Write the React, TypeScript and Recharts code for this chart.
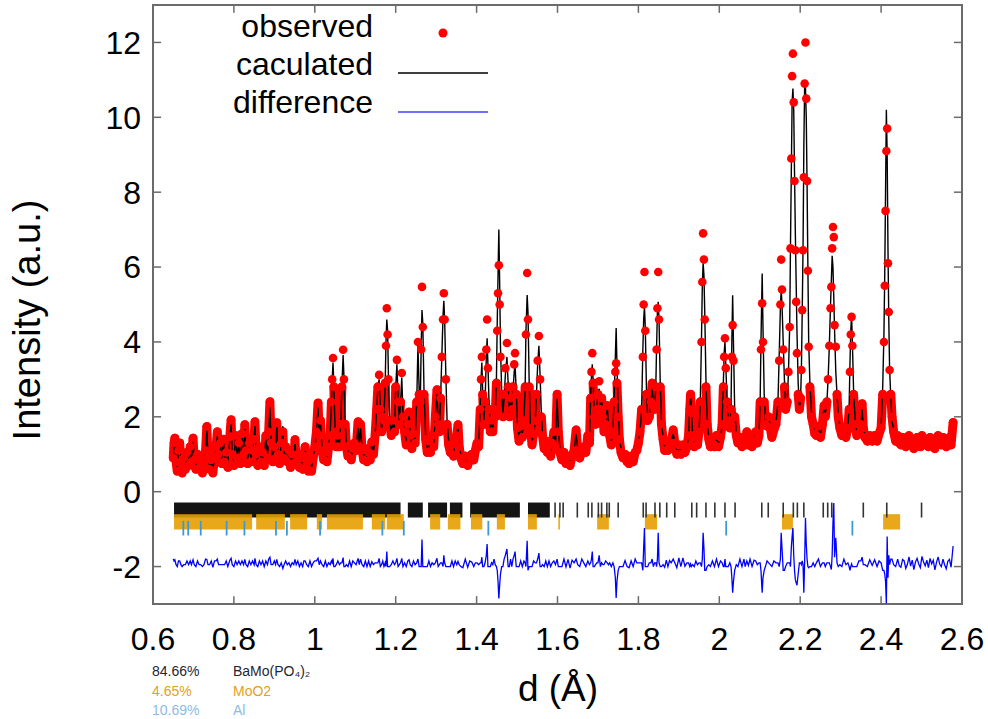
import {
  ComposedChart,
  Line,
  Scatter,
  XAxis,
  YAxis,
  ReferenceArea,
  ReferenceLine,
} from "recharts";

// Rietveld profile: [d (Å), observed, calculated]
const profileLow: [number, number, number][] = [
  [0.65, 0.9, 0.8], [0.652, 1.3, 1.25], [0.654, 1.43, 1.35], [0.657, 0.8, 0.85],
  [0.66, 0.55, 0.65], [0.663, 1.1, 1.05], [0.666, 1.3, 1.25], [0.669, 0.75, 0.8],
  [0.672, 0.5, 0.6], [0.676, 0.9, 0.95], [0.68, 0.6, 0.65], [0.684, 1.05, 1.0],
  [0.688, 0.7, 0.75], [0.692, 1.2, 1.15], [0.695, 0.8, 0.85], [0.699, 1.43, 1.35],
  [0.702, 0.85, 0.9], [0.706, 0.6, 0.7], [0.71, 1.0, 0.95], [0.714, 0.6, 0.65],
  [0.718, 0.8, 0.85], [0.722, 0.5, 0.6], [0.726, 0.7, 0.75], [0.73, 1.1, 1.0],
  [0.733, 1.74, 1.65], [0.736, 0.9, 0.95], [0.74, 0.6, 0.65], [0.744, 0.85, 0.8],
  [0.748, 0.5, 0.62], [0.752, 0.9, 0.85], [0.756, 1.2, 1.15], [0.759, 1.6, 1.5],
  [0.762, 1.0, 1.05], [0.766, 1.3, 1.35], [0.77, 0.75, 0.8], [0.774, 1.4, 1.45],
  [0.777, 0.8, 0.85], [0.781, 1.05, 1.0], [0.785, 0.65, 0.75], [0.79, 1.47, 1.4],
  [0.793, 1.92, 1.8], [0.796, 1.0, 1.05], [0.8, 0.7, 0.8], [0.804, 1.5, 1.45],
  [0.808, 0.9, 0.95], [0.812, 1.3, 1.25], [0.816, 0.75, 0.8], [0.82, 1.55, 1.5],
  [0.824, 1.0, 1.05], [0.827, 1.79, 1.7], [0.83, 1.1, 1.15], [0.834, 0.75, 0.85],
  [0.838, 1.3, 1.25], [0.842, 0.8, 0.85], [0.846, 1.1, 1.05], [0.85, 1.4, 1.45],
  [0.852, 1.87, 1.75], [0.855, 1.0, 1.05], [0.859, 0.7, 0.8], [0.863, 1.2, 1.15],
  [0.867, 0.8, 0.85], [0.871, 1.05, 1.0], [0.875, 0.7, 0.8], [0.879, 1.5, 1.45],
  [0.883, 0.9, 0.95], [0.886, 1.6, 1.5], [0.889, 2.4, 2.25], [0.892, 1.3, 1.35],
  [0.896, 0.8, 0.85], [0.9, 1.2, 1.15], [0.903, 0.9, 0.95], [0.906, 1.84, 1.75],
  [0.909, 1.0, 1.05], [0.913, 0.75, 0.85], [0.917, 1.3, 1.3], [0.921, 1.6, 1.75],
  [0.924, 0.9, 0.95], [0.928, 1.2, 1.15], [0.932, 0.8, 0.85], [0.936, 1.1, 1.1],
  [0.94, 0.65, 0.75], [0.944, 1.0, 1.0], [0.948, 0.75, 0.8], [0.951, 1.39, 1.3],
  [0.954, 0.8, 0.85], [0.958, 1.0, 0.95], [0.962, 0.65, 0.75], [0.966, 0.9, 0.9],
  [0.97, 0.6, 0.7], [0.973, 0.95, 0.9], [0.976, 1.2, 1.15], [0.98, 0.75, 0.8],
  [0.984, 0.55, 0.65], [0.988, 0.85, 0.8], [0.992, 0.55, 0.65], [0.996, 0.9, 0.9],
];

const profileMid: [number, number, number][] = [
  [1.0, 1.2, 1.15], [1.004, 1.6, 1.55], [1.008, 2.37, 2.25], [1.011, 1.5, 1.55],
  [1.014, 1.9, 1.85], [1.018, 1.1, 1.15], [1.022, 0.85, 0.95], [1.026, 1.05, 1.0],
  [1.03, 0.8, 0.9], [1.034, 1.2, 1.2], [1.038, 1.5, 1.55], [1.041, 2.4, 2.35],
  [1.043, 3.0, 3.0], [1.045, 3.57, 3.45], [1.047, 2.8, 2.9], [1.05, 1.6, 1.7],
  [1.053, 1.2, 1.25], [1.057, 1.5, 1.45], [1.061, 1.2, 1.25], [1.064, 1.8, 1.8],
  [1.067, 2.8, 2.8], [1.07, 3.79, 3.65], [1.072, 3.0, 3.1], [1.075, 1.8, 1.9],
  [1.078, 1.2, 1.25], [1.082, 0.95, 1.05], [1.086, 1.25, 1.2], [1.09, 0.85, 0.95],
  [1.094, 1.15, 1.1], [1.098, 1.3, 1.3], [1.102, 1.1, 1.15], [1.107, 1.87, 1.75],
  [1.11, 1.2, 1.25], [1.113, 1.8, 1.7], [1.117, 1.1, 1.15], [1.121, 0.85, 0.95],
  [1.125, 1.15, 1.1], [1.129, 0.8, 0.9], [1.133, 1.05, 1.0], [1.137, 0.85, 0.95],
  [1.141, 1.33, 1.3], [1.145, 1.0, 1.05], [1.149, 1.5, 1.5], [1.153, 2.2, 2.2],
  [1.156, 2.8, 2.8], [1.159, 3.12, 3.0], [1.162, 2.2, 2.3], [1.165, 1.6, 1.65],
  [1.168, 2.0, 1.95], [1.171, 1.9, 2.0], [1.174, 2.9, 2.9], [1.176, 3.9, 4.0],
  [1.178, 4.9, 4.6], [1.18, 4.2, 4.3], [1.182, 3.0, 3.1], [1.185, 1.9, 2.0],
  [1.189, 1.5, 1.55], [1.193, 1.9, 1.85], [1.197, 1.6, 1.65], [1.2, 2.8, 2.8],
  [1.203, 3.52, 3.4], [1.206, 2.4, 2.5], [1.209, 1.8, 1.85], [1.212, 2.4, 2.4],
  [1.215, 3.17, 3.05], [1.218, 2.0, 2.1], [1.222, 1.6, 1.6], [1.226, 1.25, 1.35],
  [1.23, 1.8, 1.75], [1.233, 2.13, 2.05], [1.236, 1.5, 1.55], [1.24, 1.15, 1.25],
  [1.244, 1.55, 1.5], [1.248, 1.3, 1.35], [1.252, 2.4, 2.4], [1.255, 4.0, 3.9],
  [1.258, 2.6, 2.7], [1.261, 2.4, 2.5], [1.263, 3.8, 3.9], [1.265, 5.47, 4.85],
  [1.267, 4.4, 4.5], [1.27, 2.6, 2.7], [1.274, 1.4, 1.5], [1.278, 1.05, 1.15],
  [1.282, 1.35, 1.3], [1.286, 1.05, 1.15], [1.29, 1.5, 1.5], [1.294, 1.2, 1.25],
  [1.298, 2.0, 2.0], [1.302, 2.72, 2.6], [1.305, 1.8, 1.9], [1.308, 1.6, 1.65],
  [1.311, 2.5, 2.5], [1.314, 3.6, 3.6], [1.317, 4.6, 4.7], [1.319, 5.3, 5.1],
  [1.321, 4.6, 4.6], [1.324, 3.0, 3.1], [1.327, 1.8, 1.9], [1.331, 1.25, 1.35],
  [1.335, 1.05, 1.15], [1.339, 1.25, 1.2], [1.343, 0.95, 1.05], [1.347, 1.35, 1.3],
  [1.351, 1.5, 1.55], [1.354, 1.79, 1.75], [1.357, 1.2, 1.25], [1.361, 0.9, 1.0],
  [1.366, 0.75, 0.88], [1.372, 0.95, 0.85], [1.378, 0.7, 0.82], [1.383, 0.9, 0.85],
  [1.388, 1.0, 0.98], [1.393, 0.85, 0.95], [1.397, 1.1, 1.1], [1.401, 1.3, 1.3],
  [1.405, 1.2, 1.25], [1.409, 2.2, 2.2], [1.411, 3.0, 3.0], [1.413, 3.6, 3.45],
  [1.415, 2.6, 2.7], [1.418, 1.8, 1.9], [1.421, 2.4, 2.4], [1.424, 3.8, 3.6],
  [1.426, 4.6, 4.1], [1.428, 3.3, 3.4], [1.431, 2.2, 2.3], [1.434, 1.6, 1.7],
  [1.437, 1.9, 1.9], [1.44, 1.6, 1.65], [1.443, 2.2, 2.1], [1.446, 2.0, 2.05],
  [1.449, 2.9, 3.0], [1.451, 4.3, 4.5], [1.453, 5.3, 5.8], [1.455, 6.05, 7.0],
  [1.457, 5.0, 5.6], [1.459, 3.6, 3.9], [1.462, 2.6, 2.7], [1.465, 2.0, 2.1],
  [1.468, 2.6, 2.5], [1.471, 3.3, 3.1], [1.475, 3.97, 3.6], [1.478, 2.8, 2.9],
  [1.481, 2.0, 2.1], [1.484, 2.5, 2.4], [1.487, 2.2, 2.3], [1.49, 2.8, 2.7],
  [1.493, 3.4, 3.2], [1.495, 3.7, 3.4], [1.498, 2.6, 2.7], [1.501, 1.7, 1.8],
  [1.505, 1.35, 1.45], [1.509, 1.75, 1.7], [1.513, 1.45, 1.55], [1.517, 1.9, 1.85],
  [1.52, 2.8, 2.8], [1.522, 4.2, 4.3], [1.525, 5.84, 5.25], [1.527, 4.6, 4.8],
  [1.53, 2.8, 2.9], [1.533, 1.7, 1.8], [1.537, 1.25, 1.35], [1.541, 1.55, 1.5],
  [1.545, 1.9, 1.9], [1.548, 2.6, 2.6], [1.551, 3.5, 3.4], [1.554, 4.16, 3.9],
  [1.557, 3.0, 3.1], [1.56, 2.0, 2.1], [1.563, 1.5, 1.55], [1.567, 1.15, 1.25],
  [1.571, 1.35, 1.3], [1.575, 1.05, 1.15], [1.579, 1.25, 1.2], [1.583, 0.95, 1.05],
  [1.587, 1.3, 1.3], [1.591, 1.6, 1.55], [1.595, 1.2, 1.25], [1.599, 2.6, 2.5],
];

const profileHigh: [number, number, number][] = [
  [1.602, 1.6, 1.7], [1.606, 1.05, 1.15], [1.611, 0.85, 0.95], [1.616, 1.05, 0.95],
  [1.621, 0.75, 0.86], [1.626, 0.95, 0.86], [1.631, 0.7, 0.84], [1.636, 0.95, 0.88],
  [1.641, 1.1, 1.1], [1.646, 1.65, 1.55], [1.65, 1.1, 1.15], [1.655, 0.9, 1.0],
  [1.66, 1.1, 1.0], [1.665, 1.2, 1.2], [1.67, 1.05, 1.15], [1.675, 1.5, 1.45],
  [1.679, 1.3, 1.35], [1.682, 2.5, 2.5], [1.684, 3.2, 3.1], [1.686, 3.7, 3.4],
  [1.688, 2.9, 3.0], [1.691, 2.0, 2.1], [1.694, 1.8, 1.85], [1.697, 2.2, 2.2],
  [1.7, 2.6, 2.6], [1.703, 2.95, 2.75], [1.706, 2.2, 2.3], [1.709, 2.5, 2.5],
  [1.712, 2.0, 2.05], [1.715, 1.6, 1.65], [1.719, 1.8, 1.75], [1.723, 2.3, 2.3],
  [1.726, 1.7, 1.75], [1.729, 1.5, 1.5], [1.733, 1.25, 1.35], [1.737, 1.6, 1.6],
  [1.74, 2.4, 2.5], [1.743, 3.2, 3.6], [1.745, 3.43, 4.37], [1.747, 2.9, 3.4],
  [1.75, 2.0, 2.2], [1.753, 1.4, 1.5], [1.757, 1.05, 1.15], [1.762, 0.9, 1.0],
  [1.767, 1.0, 0.94], [1.772, 0.8, 0.9], [1.777, 0.75, 0.88], [1.782, 0.95, 0.9],
  [1.787, 0.8, 0.9], [1.792, 1.05, 0.95], [1.796, 1.1, 1.1], [1.8, 1.3, 1.3],
  [1.804, 1.6, 1.6], [1.808, 2.2, 2.2], [1.811, 3.6, 3.8], [1.813, 5.0, 4.6],
  [1.815, 5.87, 4.94], [1.817, 4.3, 4.4], [1.82, 2.6, 2.7], [1.823, 1.9, 2.0],
  [1.827, 2.0, 2.0], [1.831, 2.4, 2.4], [1.834, 2.9, 2.8], [1.837, 2.3, 2.4],
  [1.84, 2.2, 2.2], [1.843, 2.8, 2.8], [1.845, 3.8, 3.9], [1.847, 4.9, 4.8],
  [1.849, 5.87, 5.07], [1.851, 4.6, 4.6], [1.854, 2.8, 2.9], [1.857, 1.8, 1.9],
  [1.861, 1.4, 1.45], [1.865, 1.1, 1.22], [1.869, 1.35, 1.28], [1.873, 1.1, 1.2],
  [1.877, 1.2, 1.14], [1.881, 1.3, 1.3], [1.886, 1.65, 1.55], [1.89, 1.3, 1.3],
  [1.895, 1.0, 1.13], [1.9, 1.25, 1.12], [1.905, 1.0, 1.1], [1.91, 1.25, 1.12],
  [1.915, 1.05, 1.14], [1.92, 1.2, 1.2], [1.924, 1.5, 1.5], [1.927, 2.2, 2.3],
  [1.929, 2.6, 2.63], [1.931, 2.1, 2.2], [1.934, 1.5, 1.55], [1.938, 1.2, 1.3],
  [1.942, 1.45, 1.4], [1.946, 1.25, 1.3], [1.95, 1.6, 1.6], [1.953, 2.4, 2.4],
  [1.956, 4.0, 4.1], [1.958, 5.6, 5.5], [1.96, 6.9, 6.1], [1.962, 6.2, 5.8],
  [1.964, 4.6, 4.8], [1.967, 2.8, 3.0], [1.97, 1.8, 1.9], [1.974, 1.4, 1.45],
  [1.978, 1.2, 1.3], [1.983, 1.3, 1.25], [1.988, 1.2, 1.3], [1.993, 1.5, 1.4],
  [1.998, 1.2, 1.3], [2.003, 1.45, 1.4], [2.007, 1.8, 1.8], [2.01, 2.8, 2.9],
  [2.012, 3.6, 3.7], [2.014, 4.1, 4.0], [2.016, 3.3, 3.4], [2.019, 2.4, 2.5],
  [2.022, 1.9, 2.0], [2.026, 1.7, 1.7], [2.029, 2.2, 2.3], [2.031, 3.6, 4.0],
  [2.033, 4.45, 5.25], [2.035, 3.5, 4.0], [2.038, 2.0, 2.2], [2.042, 1.5, 1.55],
  [2.046, 1.3, 1.4], [2.051, 1.45, 1.35], [2.056, 1.2, 1.3], [2.061, 1.45, 1.35],
  [2.064, 1.25, 1.35], [2.068, 1.6, 1.55], [2.072, 1.25, 1.32], [2.076, 1.4, 1.3],
  [2.081, 1.2, 1.3], [2.086, 1.35, 1.28], [2.09, 1.6, 1.55], [2.094, 1.3, 1.35],
  [2.098, 1.5, 1.5], [2.101, 2.4, 2.4], [2.103, 3.8, 4.0], [2.106, 5.03, 5.83],
  [2.108, 4.0, 4.4], [2.111, 2.4, 2.6], [2.114, 1.8, 1.9], [2.118, 1.75, 1.7],
  [2.122, 2.0, 2.0], [2.126, 1.7, 1.75], [2.13, 1.45, 1.55], [2.135, 1.65, 1.6],
  [2.14, 1.8, 1.8], [2.145, 2.4, 2.4], [2.148, 3.5, 3.6], [2.151, 5.0, 4.9],
  [2.153, 6.2, 5.4], [2.155, 5.4, 5.0], [2.158, 3.8, 4.0], [2.161, 2.8, 3.0],
  [2.164, 2.2, 2.3], [2.168, 2.4, 2.4], [2.171, 3.2, 3.2], [2.174, 4.4, 4.4],
  [2.176, 6.5, 6.6], [2.178, 8.9, 8.5], [2.18, 11.1, 10.4], [2.182, 11.7, 10.77],
  [2.184, 10.4, 10.2], [2.186, 8.3, 8.5], [2.188, 6.45, 6.9], [2.19, 5.07, 5.6],
  [2.192, 3.7, 4.3], [2.195, 2.6, 2.9], [2.198, 2.2, 2.2],
];

const profileTail: [number, number, number][] = [
  [2.201, 2.5, 2.5], [2.203, 3.25, 3.3], [2.205, 4.85, 4.8], [2.207, 6.45, 6.5],
  [2.209, 8.4, 9.2], [2.211, 10.9, 10.85], [2.213, 12.0, 10.8], [2.215, 10.5, 10.0],
  [2.217, 8.3, 8.2], [2.219, 5.9, 6.0], [2.221, 3.87, 4.0], [2.224, 2.8, 2.9],
  [2.228, 2.0, 2.1], [2.232, 1.8, 1.8], [2.236, 1.55, 1.65], [2.24, 1.5, 1.5],
  [2.245, 1.75, 1.65], [2.25, 1.45, 1.55], [2.255, 1.8, 1.8], [2.259, 2.3, 2.3],
  [2.262, 2.0, 2.1], [2.266, 2.4, 2.4], [2.269, 3.0, 3.0], [2.272, 3.9, 3.9],
  [2.275, 4.9, 5.0], [2.277, 5.47, 5.65], [2.279, 6.5, 6.3], [2.281, 7.07, 6.0],
  [2.283, 6.8, 5.2], [2.285, 4.45, 4.3], [2.288, 3.87, 3.2], [2.291, 2.6, 2.6],
  [2.294, 2.0, 2.1], [2.298, 1.7, 1.75], [2.303, 1.5, 1.6], [2.308, 1.65, 1.55],
  [2.313, 1.45, 1.5], [2.318, 1.7, 1.7], [2.321, 2.2, 2.3], [2.323, 3.2, 3.4],
  [2.325, 4.2, 4.3], [2.327, 4.67, 4.7], [2.329, 3.9, 4.0], [2.332, 2.6, 2.7],
  [2.336, 1.8, 1.9], [2.34, 1.5, 1.6], [2.345, 1.55, 1.5], [2.35, 1.8, 1.75],
  [2.353, 2.35, 2.2], [2.356, 1.7, 1.75], [2.36, 1.45, 1.5], [2.366, 1.35, 1.45],
  [2.372, 1.5, 1.42], [2.378, 1.35, 1.42], [2.384, 1.5, 1.42], [2.39, 1.35, 1.45],
  [2.395, 1.55, 1.5], [2.4, 1.7, 1.7], [2.404, 2.6, 2.8], [2.407, 4.0, 4.2],
  [2.409, 5.5, 5.8], [2.411, 7.5, 8.0], [2.413, 9.1, 10.2], [2.415, 9.7, 9.0],
  [2.417, 6.1, 6.5], [2.419, 4.8, 4.6], [2.421, 3.25, 3.3], [2.424, 2.6, 2.5],
  [2.427, 2.0, 1.9], [2.431, 1.6, 1.65], [2.436, 1.35, 1.45], [2.441, 1.5, 1.4],
  [2.445, 1.3, 1.38], [2.449, 1.25, 1.37], [2.453, 1.45, 1.36], [2.457, 1.4, 1.35],
  [2.461, 1.2, 1.35], [2.465, 1.3, 1.34], [2.469, 1.5, 1.34], [2.473, 1.25, 1.34],
  [2.477, 1.4, 1.33], [2.481, 1.15, 1.33], [2.485, 1.35, 1.33], [2.489, 1.45, 1.33],
  [2.493, 1.3, 1.33], [2.497, 1.2, 1.33], [2.501, 1.5, 1.33], [2.505, 1.35, 1.33],
  [2.509, 1.25, 1.33], [2.513, 1.4, 1.33], [2.517, 1.2, 1.33], [2.521, 1.45, 1.33],
  [2.525, 1.3, 1.33], [2.529, 1.4, 1.33], [2.533, 1.15, 1.34], [2.537, 1.35, 1.34],
  [2.541, 1.5, 1.34], [2.545, 1.3, 1.34], [2.549, 1.25, 1.35], [2.553, 1.45, 1.35],
  [2.557, 1.3, 1.35], [2.561, 1.2, 1.36], [2.565, 1.4, 1.36], [2.569, 1.45, 1.36],
  [2.573, 1.25, 1.37], [2.578, 1.85, 1.4],
];

// reflection markers
const bamoBands = [
  [0.652, 1.212], [1.23, 1.267], [1.28, 1.327], [1.334, 1.365], [1.384, 1.507], [1.527, 1.581],
];
const bamoTicks = [
  1.594, 1.606, 1.614, 1.649, 1.676, 1.685, 1.701, 1.709, 1.722, 1.728, 1.75, 1.812,
  1.819, 1.841, 1.853, 1.87, 1.89, 1.932, 1.944, 1.967, 1.989, 2.014, 2.039, 2.105,
  2.121, 2.158, 2.183, 2.193, 2.209, 2.257, 2.268, 2.278, 2.356, 2.414, 2.5,
];
const moo2Bands = [
  [0.652, 0.845], [0.855, 0.926], [0.939, 0.981], [1.005, 1.018], [1.03, 1.119],
  [1.141, 1.174], [1.178, 1.22], [1.285, 1.31], [1.329, 1.36], [1.386, 1.414],
  [1.45, 1.47], [1.527, 1.549], [1.602, 1.606], [1.698, 1.727], [1.816, 1.846],
  [2.155, 2.182], [2.405, 2.447],
];
const alTicks = [
  0.675, 0.687, 0.718, 0.782, 0.826, 0.904, 0.931, 1.013, 1.167, 1.22, 1.429, 2.017, 2.329,
];

const xTicks = [0.6, 0.8, 1, 1.2, 1.4, 1.6, 1.8, 2, 2.2, 2.4, 2.6];
const yTicks = [-2, 0, 2, 4, 6, 8, 10, 12];

const phaseLabels = [
  { pct: "84.66%", name: "BaMo(PO₄)₂", color: "#1e2633" },
  { pct: "4.65%", name: "MoO2", color: "#e5a01a" },
  { pct: "10.69%", name: "Al", color: "#8dbbe6" },
];

const X_MIN = 0.6;
const X_MAX = 2.6;
const Y_MIN = -3;
const Y_MAX = 13;
const DIFF_OFFSET = -1.9;
// below this the observed points are so dense that they merge into a band
const BAND_MAX = 2.9;
// inward tick length (8px) expressed in axis units
const TICK_DX = 0.02;
const TICK_DY = 0.21;

const data = [...profileLow, ...profileMid, ...profileHigh, ...profileTail].map(
  ([d, obs, calc]) => ({
    d,
    obs,
    calc,
    band: obs <= BAND_MAX ? obs : null,
    diff: obs - calc + DIFF_OFFSET,
  })
);

const FONT = '"Liberation Sans", Arial, sans-serif';
const FRAME = "#6b6b6b";

const ObsDot = (props: any) =>
  props.cx == null ? null : <circle cx={props.cx} cy={props.cy} r={4.3} fill="#ff0000" />;

export default function App() {
  const tickStyle = { fontSize: 32, fill: "#000", fontFamily: FONT };
  return (
    <div style={{ position: "absolute", left: 0, top: 0, width: 988, height: 719, background: "#fff" }}>
      <ComposedChart
        width={988}
        height={719}
        data={data}
        margin={{ top: 5, right: 26, bottom: 0, left: 0 }}
      >
        <XAxis
          dataKey="d"
          type="number"
          domain={[X_MIN, X_MAX]}
          ticks={xTicks}
          height={115}
          tickSize={-8}
          tickMargin={31}
          tickLine={false}
          tick={tickStyle}
          stroke={FRAME}
          strokeWidth={1.5}
          allowDataOverflow
        />
        <YAxis
          type="number"
          domain={[Y_MIN, Y_MAX]}
          ticks={yTicks}
          width={153}
          tickSize={-8}
          tickMargin={20}
          tickLine={false}
          tick={tickStyle}
          stroke={FRAME}
          strokeWidth={1.5}
          allowDataOverflow
        />

        {/* gnuplot style box with inward ticks on all four sides */}
        <ReferenceArea
          x1={X_MIN}
          x2={X_MAX}
          y1={Y_MIN}
          y2={Y_MAX}
          fill="none"
          stroke={FRAME}
          strokeWidth={2}
          ifOverflow="visible"
        />
        {xTicks.slice(1, -1).map((t) => (
          <ReferenceLine key={`xb${t}`} segment={[{ x: t, y: Y_MIN }, { x: t, y: Y_MIN + TICK_DY }]} stroke={FRAME} strokeWidth={1.5} ifOverflow="visible" />
        ))}
        {xTicks.slice(1, -1).map((t) => (
          <ReferenceLine key={`xt${t}`} segment={[{ x: t, y: Y_MAX }, { x: t, y: Y_MAX - TICK_DY }]} stroke={FRAME} strokeWidth={1.5} ifOverflow="visible" />
        ))}
        {yTicks.map((t) => (
          <ReferenceLine key={`yl${t}`} segment={[{ x: X_MIN, y: t }, { x: X_MIN + TICK_DX, y: t }]} stroke={FRAME} strokeWidth={1.5} ifOverflow="visible" />
        ))}
        {yTicks.map((t) => (
          <ReferenceLine key={`yr${t}`} segment={[{ x: X_MAX, y: t }, { x: X_MAX - TICK_DX, y: t }]} stroke={FRAME} strokeWidth={1.5} ifOverflow="visible" />
        ))}

        {bamoBands.map(([a, b]) => (
          <ReferenceArea key={`bb${a}`} x1={a} x2={b} y1={-0.29} y2={-0.69} fill="#000" fillOpacity={0.92} stroke="none" />
        ))}
        {bamoTicks.map((d) => (
          <ReferenceLine key={`bt${d}`} segment={[{ x: d, y: -0.29 }, { x: d, y: -0.69 }]} stroke="#333" strokeWidth={1.6} />
        ))}
        {moo2Bands.map(([a, b]) => (
          <ReferenceArea key={`mb${a}`} x1={a} x2={b} y1={-0.6} y2={-1.01} fill="#e69f00" fillOpacity={0.9} stroke="none" />
        ))}
        {alTicks.map((d) => (
          <ReferenceLine key={`al${d}`} segment={[{ x: d, y: -0.78 }, { x: d, y: -1.17 }]} stroke="#3a9ad9" strokeWidth={1.8} />
        ))}

        <Line
          type="linear"
          dataKey="diff"
          stroke="#0000ff"
          strokeWidth={1.3}
          dot={false}
          isAnimationActive={false}
        />
        <Line
          type="linear"
          dataKey="band"
          stroke="#ff0000"
          strokeWidth={9}
          strokeLinejoin="round"
          strokeLinecap="round"
          dot={false}
          connectNulls={false}
          isAnimationActive={false}
        />
        <Scatter dataKey="obs" fill="#ff0000" shape={ObsDot} isAnimationActive={false} />
        <Line
          type="linear"
          dataKey="calc"
          stroke="#000"
          strokeWidth={1.4}
          dot={false}
          isAnimationActive={false}
        />
      </ComposedChart>

      <svg
        width={988}
        height={719}
        style={{ position: "absolute", left: 0, top: 0, pointerEvents: "none" }}
        fontFamily={FONT}
      >
        <text x={373} y={37} fontSize={32} textAnchor="end">observed</text>
        <circle cx={443} cy={33} r={4.5} fill="#ff0000" />
        <text x={373} y={75} fontSize={32} textAnchor="end">caculated</text>
        <line x1={398} x2={488} y1={73} y2={73} stroke="#000" strokeWidth={1.5} />
        <text x={373} y={113} fontSize={32} textAnchor="end">difference</text>
        <line x1={398} x2={488} y1={112} y2={112} stroke="#4040ff" strokeWidth={1.5} />

        <text transform="translate(40,320) rotate(-90)" fontSize={38} textAnchor="middle">
          Intensity (a.u.)
        </text>
        <text x={558} y={701} fontSize={37} textAnchor="middle">d (Å)</text>

        {phaseLabels.map((p, i) => (
          <g key={p.pct} fill={p.color} fontSize={14}>
            <text x={152} y={676 + i * 19.5}>{p.pct}</text>
            <text x={233} y={676 + i * 19.5}>{p.name}</text>
          </g>
        ))}
      </svg>
    </div>
  );
}
